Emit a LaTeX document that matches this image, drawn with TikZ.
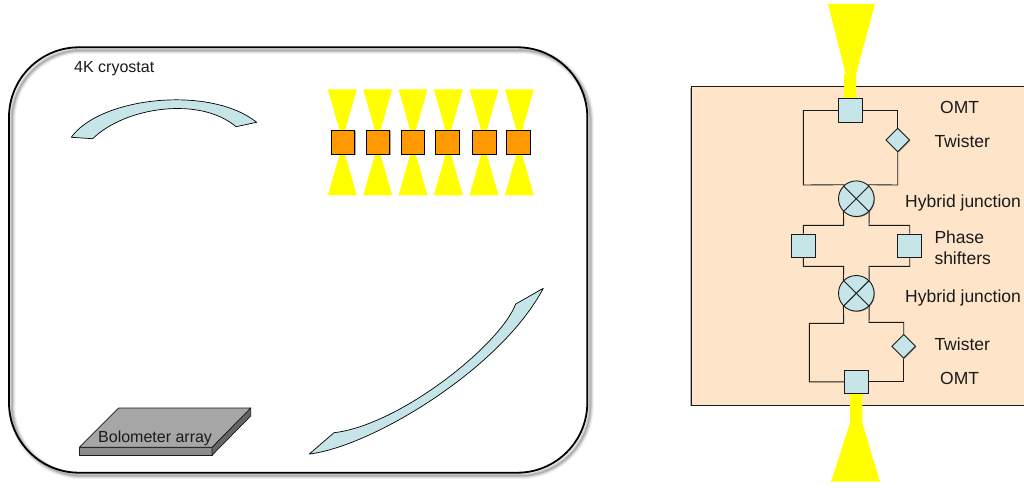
\documentclass[tikz,border=0pt]{standalone}
\usepackage{fontspec}
\setmainfont{Liberation Sans}
\usetikzlibrary{shapes.geometric,shadows}
\definecolor{mirrorblue}{HTML}{C5E5E8}
\definecolor{panelpeach}{HTML}{FEE5C9}
\definecolor{hornyellow}{HTML}{FFFF00}
\definecolor{feedorange}{HTML}{FF9900}
\definecolor{inkdark}{HTML}{1A1A1A}
\tikzset{
  softshadow/.style={drop shadow={shadow xshift=0.8pt,shadow yshift=-0.8pt,opacity=0.35,fill=black}},
  blockbox/.style={rectangle,draw=inkdark,line width=0.9pt,fill=mirrorblue,minimum size=23.6pt,inner sep=0pt,softshadow},
  twistbox/.style={diamond,aspect=1,draw=inkdark,line width=0.9pt,fill=mirrorblue,minimum size=24pt,inner sep=0pt,softshadow},
  hybridbox/.style={circle,draw=inkdark,line width=0.9pt,fill=mirrorblue,minimum size=35.6pt,inner sep=0pt,softshadow},
  feedbox/.style={rectangle,draw=black,line width=1pt,fill=feedorange,minimum size=23.5pt,inner sep=0pt,softshadow},
  wire/.style={draw=inkdark,line width=0.9pt},
  hornfill/.style={fill=hornyellow,draw=none},
  mirror/.style={fill=mirrorblue,draw=black,line width=0.7pt,line join=round},
  biglabel/.style={anchor=base west,inner sep=0pt,text=inkdark,font=\fontsize{17.5}{20}\selectfont},
  smalllabel/.style={anchor=base west,inner sep=0pt,text=inkdark,font=\fontsize{16}{19}\selectfont}
}
\begin{document}
\begin{tikzpicture}[x=1pt,y=-1pt]
\useasboundingbox (0,0) rectangle (1024,487);
\clip (0,0) rectangle (1024,487);
\fill[white] (0,0) rectangle (1024,487);

% cryostat
\foreach \w/\o in {7/0.05,5/0.08,3/0.10,1.5/0.12}{
  \draw[black,opacity=\o,line width=\w pt,rounded corners=70pt] (12,50.3) rectangle (590.3,475.7);
}
\draw[black,line width=1.8pt,rounded corners=70pt] (9,47.3) rectangle (587.3,472.7);
\node[smalllabel] (cryolabel) at (74,72.3) {4K cryostat};

% upper mirror
\draw[mirror] (71.3,137.3) .. controls (100,97) and (210,85) .. (256.7,122.3)
  -- (236,126.7) .. controls (200,96) and (125,107) .. (92.7,138.7) -- cycle;

% lower mirror
\draw[mirror] (309.3,454) .. controls (370,447) and (500,370) .. (543.3,288.3)
  -- (515.7,304) .. controls (500,345) and (400,425) .. (334,432.7) -- cycle;

% horn array
\foreach \hx/\sx/\n in {342.3/343.2/1,377.7/378/2,413/412.8/3,448.3/447.7/4,484/484.3/5,519.3/518.7/6}{
  \fill[hornfill] (\hx-14.5,89.3) -- (\hx+14.5,89.3) -- (\hx+2.6,131) -- (\hx-2.6,131) -- cycle;
  \fill[hornfill] (\hx-14.5,195.3) -- (\hx+14.5,195.3) -- (\hx+2.6,154) -- (\hx-2.6,154) -- cycle;
  \node[feedbox] (feed\n) at (\sx,142.3) {};
}

% bolometer
\fill[black!45,draw=inkdark,line width=0.7pt,line join=round] (79.3,447.3) -- (212,447.3) -- (212,455.3) -- (79.3,455.3) -- cycle;
\fill[black!60,draw=inkdark,line width=0.7pt,line join=round] (212,447.3) -- (250.7,408) -- (250.7,416) -- (212,455.3) -- cycle;
\fill[black!35,draw=inkdark,line width=0.7pt,line join=round] (79.3,447.3) -- (118.7,408) -- (250.7,408) -- (212,447.3) -- cycle;
\node[smalllabel] (bololabel) at (98,442) {Bolometer array};

% panel
\fill[black,opacity=0.3] (690,88) rectangle (1030,406);
\draw[fill=panelpeach,draw=inkdark,line width=0.9pt] (691,86.7) rectangle (1030,405);

% horns of the panel
\fill[hornfill] (828,4) -- (875,4) -- (856,74) -- (856,99) -- (844,99) -- (844,74) -- (845.7,74) -- cycle;
\fill[hornfill] (850,393) -- (862.3,393) -- (862.3,423) -- (880,481.7) -- (831,481.7) -- (850,423) -- cycle;

% components
\node[blockbox] (omtA) at (850.5,110.5) {};
\node[twistbox] (twA) at (897.7,140) {};
\node[hybridbox] (hybA) at (856.3,198.7) {};
\node[blockbox] (psL) at (803.3,245.8) {};
\node[blockbox] (psR) at (909.7,245.8) {};
\node[hybridbox] (hybB) at (856.3,293.3) {};
\node[twistbox] (twB) at (903.7,346.3) {};
\node[blockbox] (omtB) at (856.5,381.8) {};

\foreach \h in {hybA,hybB}{
  \draw[wire] (\h.45) -- (\h.225);
  \draw[wire] (\h.135) -- (\h.315);
}

% routing corners
\coordinate (a1) at (803.3,185);
\coordinate (a2) at (897.7,110.5);
\coordinate (a3) at (897.7,185);
\coordinate (b1) at (843.7,225.3);
\coordinate (b2) at (869,225.3);
\coordinate (c1) at (843.7,266.3);
\coordinate (c2) at (869,266.3);
\coordinate (d1) at (843.7,323.3);
\coordinate (d2) at (809.3,323.3);
\coordinate (d3) at (809.3,381.8);
\coordinate (e1) at (869,322.3);
\coordinate (e2) at (903.7,322.3);
\coordinate (e3) at (903.7,381.8);

% connectors
\draw[wire] (omtA.west) -| (a1) -- (hybA.130);
\draw[wire] (omtA.east) -- (a2) -- (twA.north);
\draw[wire] (twA.south) -- (a3) -- (hybA.50);
\draw[wire] (hybA.225) -- (b1) -| (psL.north);
\draw[wire] (hybA.315) -- (b2) -| (psR.north);
\draw[wire] (psL.south) |- (c1) -- (hybB.135);
\draw[wire] (psR.south) |- (c2) -- (hybB.45);
\draw[wire] (hybB.225) -- (d1) -- (d2) -- (d3) -- (omtB.west);
\draw[wire] (hybB.315) -- (e1) -- (e2) -- (twB.north);
\draw[wire] (twB.south) -- (e3) -- (omtB.east);

% labels
\node[biglabel] (l1) at (940,113.3) {OMT};
\node[biglabel] (l2) at (934.3,147.7) {Twister};
\node[biglabel] (l3) at (905,207.3) {Hybrid junction};
\node[biglabel] (l4) at (934.3,243.3) {Phase};
\node[biglabel] (l5) at (934.3,264) {shifters};
\node[biglabel] (l6) at (905,302) {Hybrid junction};
\node[biglabel] (l7) at (934.3,350) {Twister};
\node[biglabel] (l8) at (940,384) {OMT};
\end{tikzpicture}
\end{document}
